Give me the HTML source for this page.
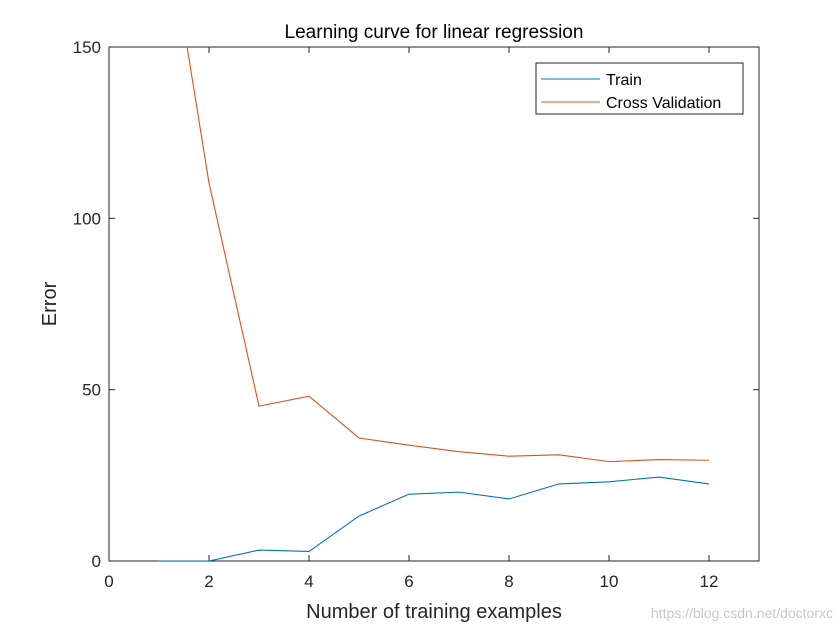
<!DOCTYPE html>
<html><head><meta charset="utf-8"><style>
body{margin:0;background:#fff;width:840px;height:630px;overflow:hidden}
svg{display:block;font-family:"Liberation Sans",sans-serif}
</style></head><body>
<svg id="chart" width="840" height="630" viewBox="0 0 840 630">
<defs><clipPath id="plotclip"><rect x="109" y="47" width="650" height="514"/></clipPath></defs>
<rect x="0" y="0" width="840" height="630" fill="#fff"/>
<rect x="109" y="47" width="650" height="514" fill="#fff" stroke="#262626" stroke-width="1"/>
<g id="ticks"></g>
<g id="series" clip-path="url(#plotclip)"></g>
<text x="434" y="38" font-size="19" text-anchor="middle" fill="#000">Learning curve for linear regression</text>
<text x="434" y="618" font-size="20" text-anchor="middle" fill="#262626">Number of training examples</text>
<text transform="translate(56,304) rotate(-90)" font-size="20" text-anchor="middle" fill="#262626">Error</text>
<g>
<rect x="536" y="63" width="207" height="51" fill="#fff" stroke="#262626" stroke-width="1"/>
<line x1="541" y1="79" x2="600" y2="79" stroke="#0072BD" stroke-width="1"/>
<text x="606" y="85" font-size="16" fill="#000">Train</text>
<line x1="541" y1="102" x2="600" y2="102" stroke="#D95319" stroke-width="1"/>
<text x="606" y="108" font-size="16" fill="#000">Cross Validation</text>
</g>
<text x="833" y="618" font-size="14" text-anchor="end" fill="#c8c8c8">https://blog.csdn.net/doctorxc</text>
</svg>
<script>
const xValues=[1,2,3,4,5,6,7,8,9,10,11,12];
const trainError=[0,0,3.2,2.8,13.1,19.5,20.1,18.1,22.5,23.1,24.5,22.5];
const cvError=[201,110.3,45.2,48.1,35.9,33.8,31.9,30.6,31,29,29.6,29.4];
const xTicks=[0,2,4,6,8,10,12];
const yTicks=[0,50,100,150];
const X=v=>109+v*50;
const Y=v=>561-v*(514/150);
const NS="http://www.w3.org/2000/svg";
const tg=document.getElementById('ticks');
xTicks.forEach(t=>{
  const l=document.createElementNS(NS,'line');
  
  
  l.setAttribute('x1',X(t));l.setAttribute('x2',X(t));l.setAttribute('y1',561);l.setAttribute('y2',555);
  l.setAttribute('stroke','#262626');tg.appendChild(l);
  const l2=document.createElementNS(NS,'line');
  
  
  l2.setAttribute('x1',X(t));l2.setAttribute('x2',X(t));l2.setAttribute('y1',47);l2.setAttribute('y2',53);
  l2.setAttribute('stroke','#262626');tg.appendChild(l2);
  const tx=document.createElementNS(NS,'text');
  
  
  tx.setAttribute('x',X(t));tx.setAttribute('y',587);tx.setAttribute('font-size','17');
  tx.setAttribute('text-anchor','middle');tx.setAttribute('fill','#262626');tx.textContent=t;tg.appendChild(tx);
});
yTicks.forEach(t=>{
  const l=document.createElementNS(NS,'line');
  
  
  l.setAttribute('x1',109);l.setAttribute('x2',115);l.setAttribute('y1',Y(t));l.setAttribute('y2',Y(t));
  l.setAttribute('stroke','#262626');tg.appendChild(l);
  const l2=document.createElementNS(NS,'line');
  
  
  l2.setAttribute('x1',753);l2.setAttribute('x2',759);l2.setAttribute('y1',Y(t));l2.setAttribute('y2',Y(t));
  l2.setAttribute('stroke','#262626');tg.appendChild(l2);
  const tx=document.createElementNS(NS,'text');
  
  
  tx.setAttribute('x',101);tx.setAttribute('y',Y(t)+6);tx.setAttribute('font-size','17');
  tx.setAttribute('text-anchor','end');tx.setAttribute('fill','#262626');tx.textContent=t;tg.appendChild(tx);
});
const sg=document.getElementById('series');
function line(vals,color,name){
  const p=document.createElementNS(NS,'polyline');
  
  
  p.setAttribute('points',vals.map((v,i)=>X(xValues[i])+','+Y(v)).join(' '));
  p.setAttribute('fill','none');p.setAttribute('stroke',color);p.setAttribute('stroke-width','1.1');
  sg.appendChild(p);
}
line(trainError,'#0072BD','train-line');
line(cvError,'#D95319','cross-validation-line');
</script>
</body></html>
